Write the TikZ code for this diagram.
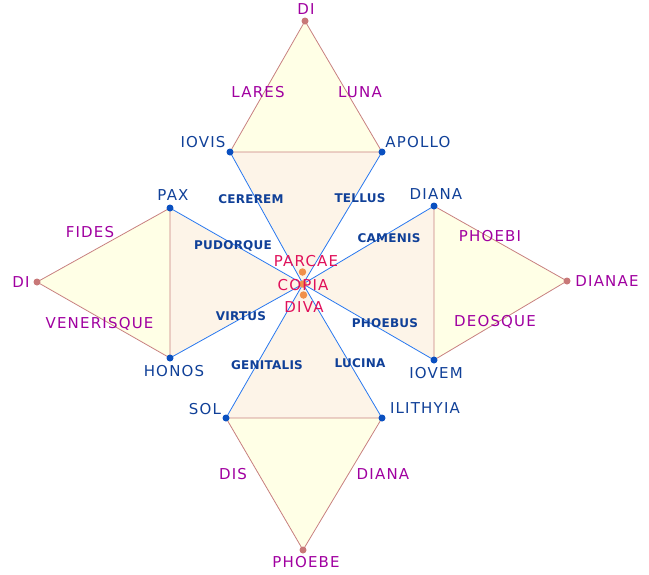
\documentclass[tikz,border=0pt]{standalone}
\usepackage{fontspec}
\setmainfont{DejaVu Sans}
\newfontfamily\labfont[LetterSpace=8]{DejaVu Sans}
\newfontfamily\smlfont[LetterSpace=2]{DejaVu Sans Bold}
\begin{document}
\begin{tikzpicture}[x=1pt,y=-1pt,
  outline/.style={draw=redline,line width=0.8pt},
  inner/.style={draw=blueline,line width=0.8pt},
  bdot/.style={circle,fill=bluedot,inner sep=0pt,minimum size=7pt},
  rdot/.style={circle,fill=reddot,inner sep=0pt,minimum size=7pt},
  odot/.style={circle,fill=orangedot,inner sep=0pt,minimum size=7.5pt},
  plab/.style={text=purplelab,font=\labfont\fontsize{15}{15}\selectfont,inner sep=0pt},
  blab/.style={text=bluelab,font=\labfont\fontsize{15}{15}\selectfont,inner sep=0pt},
  slab/.style={text=bluelab,font=\smlfont\fontsize{12}{12}\selectfont,inner sep=0pt},
  clab/.style={text=crimsonlab,font=\labfont\fontsize{15}{15}\selectfont,inner sep=0pt}
]
\definecolor{redline}{HTML}{C88080}
\definecolor{blueline}{HTML}{2878F0}
\definecolor{bluedot}{HTML}{0A50C0}
\definecolor{reddot}{HTML}{C87878}
\definecolor{orangedot}{HTML}{F0904A}
\definecolor{purplelab}{HTML}{A000A0}
\definecolor{bluelab}{HTML}{104098}
\definecolor{crimsonlab}{HTML}{E0105A}
\definecolor{beige}{HTML}{FDF4E8}
\definecolor{paleyellow}{HTML}{FFFFE6}
\useasboundingbox (0,0) rectangle (649,574);
% coordinates
\coordinate (C) at (303,284);
\coordinate (Ctop) at (302.5,272);
\coordinate (Cbot) at (303.5,295);
\coordinate (DIt) at (305,21);
\coordinate (IOVIS) at (230,152);
\coordinate (APOLLO) at (382,152);
\coordinate (PAX) at (170,208);
\coordinate (HONOS) at (170,358);
\coordinate (DIl) at (37,282);
\coordinate (DIANA) at (434,206);
\coordinate (IOVEM) at (434,360);
\coordinate (DIANAE) at (567,281);
\coordinate (SOL) at (226,418);
\coordinate (ILITHYIA) at (382,418);
\coordinate (PHOEBEp) at (303,550);
% fills
\fill[beige] (IOVIS) -- (APOLLO) -- (C) -- cycle;
\fill[beige] (PAX) -- (HONOS) -- (C) -- cycle;
\fill[beige] (DIANA) -- (IOVEM) -- (C) -- cycle;
\fill[beige] (SOL) -- (ILITHYIA) -- (C) -- cycle;
\filldraw[fill=paleyellow,outline] (IOVIS) -- (DIt) -- (APOLLO) -- cycle;
\filldraw[fill=paleyellow,outline] (PAX) -- (DIl) -- (HONOS) -- cycle;
\filldraw[fill=paleyellow,outline] (DIANA) -- (DIANAE) -- (IOVEM) -- cycle;
\filldraw[fill=paleyellow,outline] (SOL) -- (PHOEBEp) -- (ILITHYIA) -- cycle;
% blue lines
\draw[inner] (IOVIS) -- (C) -- (ILITHYIA);
\draw[inner] (APOLLO) -- (C) -- (SOL);
\draw[inner] (PAX) -- (C) -- (IOVEM);
\draw[inner] (DIANA) -- (C) -- (HONOS);
% dots
\node[rdot] (dDIt) at (DIt) {};
\node[rdot] (dDIl) at (DIl) {};
\node[rdot] (dDIANAE) at (DIANAE) {};
\node[rdot] (dPHOEBE) at (PHOEBEp) {};
\node[bdot] (dIOVIS) at (IOVIS) {};
\node[bdot] (dAPOLLO) at (APOLLO) {};
\node[bdot] (dPAX) at (PAX) {};
\node[bdot] (dHONOS) at (HONOS) {};
\node[bdot] (dDIANA) at (DIANA) {};
\node[bdot] (dIOVEM) at (IOVEM) {};
\node[bdot] (dSOL) at (SOL) {};
\node[bdot] (dILITHYIA) at (ILITHYIA) {};
\node[odot] (dC) at (C) {};
\node[odot] (dCt) at (Ctop) {};
\node[odot] (dCb) at (Cbot) {};
% labels
\node[plab] (lDIt) at (306,9) {DI};
\node[plab] (lLARES) at (258,92) {LARES};
\node[plab] (lLUNA) at (360,92) {LUNA};
\node[blab] (lIOVIS) at (203,142) {IOVIS};
\node[blab] (lAPOLLO) at (418,142) {APOLLO};
\node[slab] (lCEREREM) at (251,199) {CEREREM};
\node[slab] (lTELLUS) at (360,198) {TELLUS};
\node[blab] (lPAX) at (173,195) {PAX};
\node[blab] (lDIANA) at (436,194) {DIANA};
\node[plab] (lFIDES) at (90,232) {FIDES};
\node[slab] (lPUDORQUE) at (233,246) {PUDORQUE};
\node[slab] (lCAMENIS) at (389,238) {CAMENIS};
\node[plab] (lPHOEBI) at (490,236) {PHOEBI};
\node[plab] (lDIl) at (21,282) {DI};
\node[plab] (lDIANAE) at (607,281) {DIANAE};
\node[clab] (lPARCAE) at (306,261) {PARCAE};
\node[clab] (lCOPIA) at (303,285) {COPIA};
\node[clab] (lDIVA) at (304,307) {DIVA};
\node[plab] (lVENERISQUE) at (99.5,324) {VENERISQUE};
\node[slab] (lVIRTUS) at (241,316) {VIRTUS};
\node[slab] (lPHOEBUS) at (385,323) {PHOEBUS};
\node[plab] (lDEOSQUE) at (495,322) {DEOSQUE};
\node[blab] (lHONOS) at (174,371) {HONOS};
\node[blab] (lIOVEM) at (436,373) {IOVEM};
\node[slab] (lGENITALIS) at (267,365) {GENITALIS};
\node[slab] (lLUCINA) at (360,363) {LUCINA};
\node[blab] (lSOL) at (205,409) {SOL};
\node[blab] (lILITHYIA) at (425,408) {ILITHYIA};
\node[plab] (lDIS) at (233,474) {DIS};
\node[plab] (lDIANAb) at (383,474) {DIANA};
\node[plab] (lPHOEBE) at (306,562) {PHOEBE};
\end{tikzpicture}
\end{document}
